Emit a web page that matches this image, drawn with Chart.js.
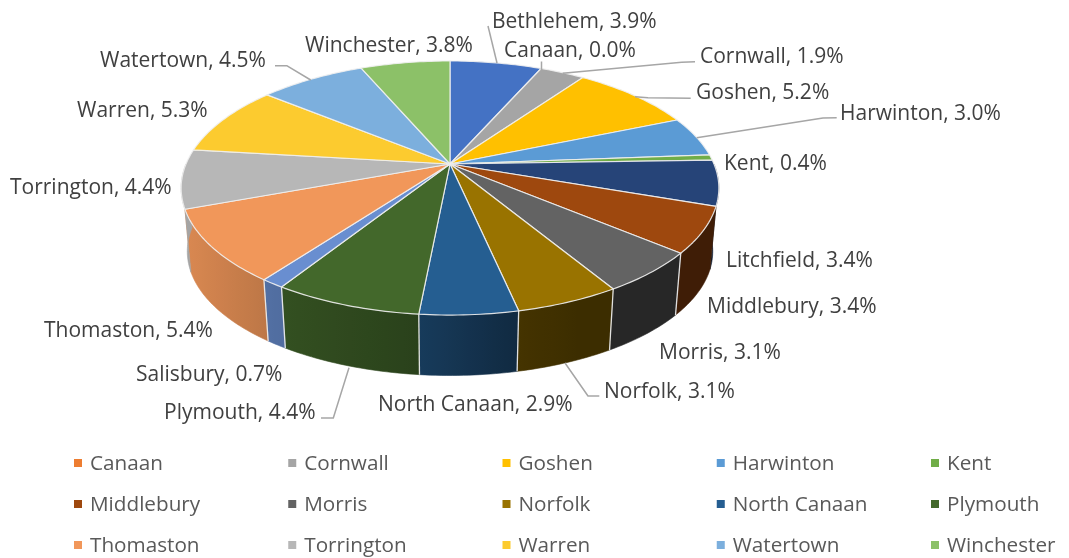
<!DOCTYPE html>
<html><head><meta charset="utf-8">
<style>html,body{margin:0;padding:0;background:#fff}canvas{display:block}</style>
<script src="https://cdn.jsdelivr.net/npm/chart.js@4"></script>
</head><body><canvas id="c" width="1069" height="558"></canvas>
<script>
const categories = ["Bethlehem","Canaan","Cornwall","Goshen","Harwinton","Kent","Litchfield","Middlebury","Morris","Norfolk","North Canaan","Plymouth","Salisbury","Thomaston","Torrington","Warren","Watertown","Winchester"];
const shares = [3.9,0.0,1.9,5.2,3.0,0.4,3.4,3.4,3.1,3.1,2.9,4.4,0.7,5.4,4.4,5.3,4.5,3.8];
const sliceColors = ["#4472C4","#ED7D31","#A5A5A5","#FFC000","#5B9BD5","#70AD47","#264478","#9E480E","#636363","#997300","#255E91","#43682B","#698ED0","#F1975A","#B7B7B7","#FCCB2F","#7CAFDD","#8CC168"];
const legendHidden = ["Bethlehem","Litchfield","Salisbury"];

const LABEL_FONT = '21px "Open Sans", Lato, sans-serif';
const LEGEND_FONT = '20.7px "Open Sans", Lato, sans-serif';
const top3d = {cx:450, cy:164, A:122.5, B:264, k:0.189};
const bot3d = {cx:450, cy:228, A:119.6, B:258, k:0.189};
function project(p, a, r=1){
  const u=r*Math.cos(a), v=r*Math.sin(a), w=1/(1-p.k*v);
  return [p.cx+p.B*u*w, p.cy+p.A*v*w];
}
const labelPos = {Bethlehem:[492,22],Canaan:[504,51],Cornwall:[700,57],Goshen:[696,93],Harwinton:[840,114],Kent:[724,164],Litchfield:[726,261],Middlebury:[707,307],Morris:[659,353],Norfolk:[604,392],"North Canaan":[378,405],Plymouth:[164,413],Salisbury:[136,375],Thomaston:[44,331],Torrington:[10,188],Warren:[77,111],Watertown:[100,61],Winchester:[305,46]};
const leaders = [
 [[488,26],[497,63]],
 [[541.5,61.5],[541.5,70]],
 [[695,61.7],[681.7,62.3],[562.7,73.3]],
 [[690.7,98.3],[648,97.7],[635,96.7]],
 [[836.7,117.7],[823,118],[696.7,137.7]],
 [[275,65.7],[286.7,65.7],[310.7,80]],
 [[321,418],[333.3,418],[349,367.7]],
 [[599.3,396],[588,396],[565,363]]
];
const shadeStops = [[-1,.9],[-.68,.78],[-.1,.62],[.25,.45],[.5,.39],[1,.4]];
function shadeAt(u){
  for(let i=1;i<shadeStops.length;i++){
    const [x0,y0]=shadeStops[i-1],[x1,y1]=shadeStops[i];
    if(u<=x1) return y0+(y1-y0)*(u-x0)/(x1-x0);
  }
  return .4;
}
function shade(hex,f){
  const n=parseInt(hex.slice(1),16);
  return `rgb(${Math.round((n>>16&255)*f)},${Math.round((n>>8&255)*f)},${Math.round((n&255)*f)})`;
}
function pathPts(ctx,pts){ctx.beginPath();pts.forEach((q,i)=>i?ctx.lineTo(q[0],q[1]):ctx.moveTo(q[0],q[1]));}

const pie3d = {
  id:'pie3d',
  beforeDatasetDraw(chart,args){
    const ctx=chart.ctx, arcs=args.meta.data;
    arcs.forEach(arc=>{
      const a0=Math.max(arc.startAngle,0), a1=Math.min(arc.endAngle,Math.PI);
      if(a1<=a0) return;
      const n=Math.max(2,Math.ceil((a1-a0)/(Math.PI/180)));
      const up=[],dn=[];
      for(let i=0;i<=n;i++){const a=a0+(a1-a0)*i/n;up.push(project(top3d,a));dn.push(project(bot3d,a));}
      const xs=up.concat(dn).map(q=>q[0]);
      const xL=Math.min(...xs),xR=Math.max(...xs);
      const g=ctx.createLinearGradient(xL,0,xR+.01,0);
      for(let i=0;i<=8;i++){
        const t=i/8;
        const u=((xL+(xR-xL)*t)-top3d.cx)/top3d.B;
        g.addColorStop(t,shade(arc.options.backgroundColor,shadeAt(Math.max(-1,Math.min(1,u)))));
      }
      ctx.fillStyle=g;ctx.strokeStyle=g;ctx.lineWidth=.6;
      pathPts(ctx,up.concat(dn.reverse()));
      ctx.closePath();ctx.fill();ctx.stroke();
    });
    ctx.strokeStyle='rgba(235,235,235,.95)';ctx.lineWidth=1.3;
    arcs.forEach(arc=>{
      const a=arc.startAngle;
      if(Math.sin(a)>0.4&&arc.endAngle>arc.startAngle){
        pathPts(ctx,[project(top3d,a),project(bot3d,a)]);ctx.stroke();
      }
    });
    arcs.forEach(arc=>{
      if(arc.endAngle<=arc.startAngle) return;
      const pts=[[top3d.cx,top3d.cy]],n=Math.max(2,Math.ceil((arc.endAngle-arc.startAngle)/(Math.PI/180)));
      for(let i=0;i<=n;i++) pts.push(project(top3d,arc.startAngle+(arc.endAngle-arc.startAngle)*i/n));
      pathPts(ctx,pts);ctx.closePath();
      ctx.fillStyle=arc.options.backgroundColor;ctx.fill();
      ctx.strokeStyle='rgba(240,240,240,.9)';ctx.lineWidth=1.2;ctx.lineJoin='round';ctx.stroke();
    });
    return false;
  },
  afterDraw(chart){
    const ctx=chart.ctx;
    ctx.save();
    ctx.strokeStyle='#a6a6a6';ctx.lineWidth=1.5;
    leaders.forEach(l=>{pathPts(ctx,l);ctx.stroke();});
    ctx.font=LABEL_FONT;ctx.textBaseline='middle';ctx.textAlign='left';ctx.fillStyle='#404040';
    categories.forEach((c,i)=>{
      const p=labelPos[c];
      ctx.fillText(`${c}, ${shares[i].toFixed(1)}%`,p[0],p[1]);
    });
    ctx.font=LEGEND_FONT;
    let k=0;
    categories.forEach((c,i)=>{
      if(legendHidden.includes(c)) return;
      const col=k%5,row=Math.floor(k/5);k++;
      const x=74+col*214.25,y=463+row*41;
      ctx.fillStyle=sliceColors[i];ctx.fillRect(x,y-4,8,8);
      ctx.fillStyle='#595959';ctx.fillText(c,x+16,y+1);
    });
    ctx.restore();
  }
};
new Chart(document.getElementById('c'),{
  type:'pie',
  data:{labels:categories,datasets:[{data:shares,backgroundColor:sliceColors,borderWidth:0}]},
  options:{responsive:false,animation:false,plugins:{legend:{display:false},tooltip:{enabled:false}}},
  plugins:[pie3d]
});
</script></body></html>
